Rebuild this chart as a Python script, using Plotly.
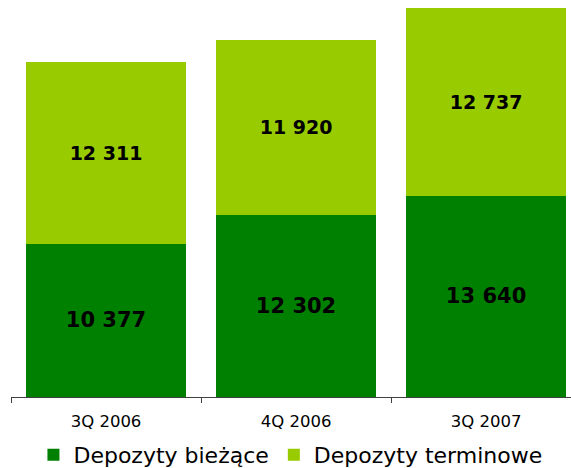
import plotly.graph_objects as go

kwartaly = ['3Q 2006', '4Q 2006', '3Q 2007']
depozyty_biezace = [10377, 12302, 13640]
depozyty_terminowe = [12311, 11920, 12737]


def format_pl(v):
    return f"{v:,}".replace(",", " ")


fig = go.Figure()
fig.add_trace(go.Bar(
    x=kwartaly,
    y=depozyty_biezace,
    name='Depozyty bieżące',
    marker=dict(color='#008000', line=dict(width=0)),
    text=[format_pl(v) for v in depozyty_biezace],
    textposition='inside',
    insidetextanchor='middle',
    textfont=dict(family='DejaVu Sans', size=21, color='black', weight='bold'),
))
fig.add_trace(go.Bar(
    x=kwartaly,
    y=depozyty_terminowe,
    name='Depozyty terminowe',
    marker=dict(color='#99CC00', line=dict(width=0)),
    text=[format_pl(v) for v in depozyty_terminowe],
    textposition='inside',
    insidetextanchor='middle',
    textfont=dict(family='DejaVu Sans', size=19, color='black', weight='bold'),
))

fig.update_layout(
    barmode='stack',
    bargap=0.16,
    width=571,
    height=468,
    margin=dict(l=11, r=0, t=0, b=71, autoexpand=False),
    paper_bgcolor='white',
    plot_bgcolor='white',
    font=dict(family='DejaVu Sans', color='black'),
    showlegend=True,
    legend=dict(
        orientation='h',
        traceorder='normal',
        x=0.499, xanchor='center',
        y=-0.146, yanchor='middle',
        font=dict(size=22),
        itemwidth=30,
    ),
    xaxis=dict(
        range=[-0.5, 2.447],
        showline=True,
        linecolor='#404040',
        linewidth=1,
        ticks='outside',
        tickson='boundaries',
        ticklen=5,
        tickcolor='#404040',
        tickfont=dict(size=16.5),
        ticklabelstandoff=9,
        showgrid=False,
    ),
    yaxis=dict(
        range=[0, 26900],
        visible=False,
        showgrid=False,
    ),
)

# usuń domyślny margines strony, żeby wykres zaczynał się w rogu okna
fig.write_html(
    "out.html",
    config={'displayModeBar': False},
    post_script="document.body.style.margin='0';",
)
